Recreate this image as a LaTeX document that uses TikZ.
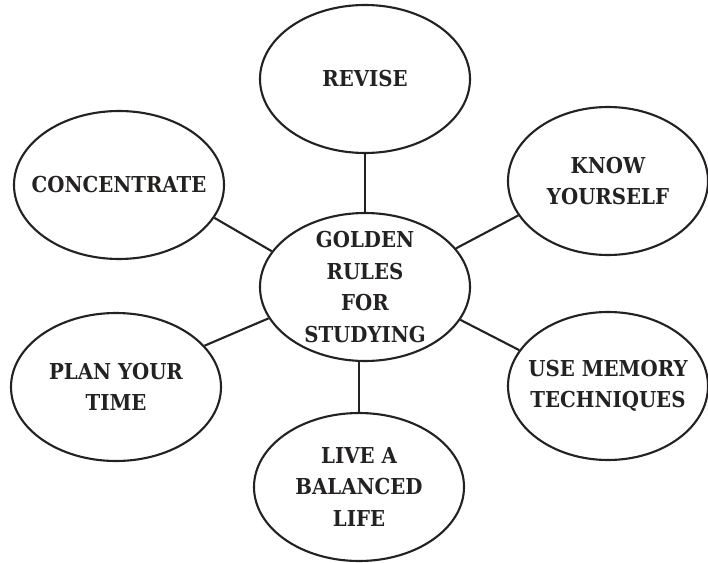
\documentclass[tikz,border=0pt]{standalone}
\usepackage{fontspec}
\setmainfont{DejaVu Serif Condensed}
\usepackage{tikz}
\usetikzlibrary{shapes.geometric}
\definecolor{ink}{rgb}{0.14,0.13,0.13}
\tikzset{bub/.style={draw=ink,line width=1.5pt,ellipse,minimum width=5.25cm,minimum height=3.7cm,inner sep=0pt}}
\tikzset{txt/.style={text=ink,align=center,font=\fontsize{15.6}{22.5}\selectfont\bfseries}}
\tikzset{ln/.style={draw=ink,line width=1.5pt}}
\begin{document}
\begin{tikzpicture}
        \useasboundingbox (0,0) rectangle (17.7,14.05);
        \node[bub] (gold) at (9.125,6.875) {};
        \node[bub] (revise) at (9.125,12.075) {};
        \node[bub] (conc) at (2.975,9.425) {};
        \node[bub,minimum width=5cm] (know) at (15.2,9.525) {};
        \node[bub] (plan) at (2.9,4.375) {};
        \node[bub,minimum width=5cm] (use) at (15.2,4.4) {};
        \node[bub] (live) at (8.975,1.875) {};
        \node[txt] (goldt) at (gold) {GOLDEN\\RULES\\FOR\\STUDYING};
        \node[txt] (revt) at (revise) {REVISE};
        \node[txt] (conct) at (conc) {CONCENTRATE};
        \node[txt] (knowt) at (know) {KNOW\\YOURSELF};
        \node[txt] (plant) at (plan) {PLAN YOUR\\TIME};
        \node[txt] (uset) at (use) {USE MEMORY\\TECHNIQUES};
        \node[txt] (livet) at (live) {LIVE A\\BALANCED\\LIFE};
        \draw[ln] (revise) -- (gold);
        \draw[ln] (conc.-19) -- (gold.159);
        \draw[ln] (know.201) -- (gold.23);
        \draw[ln] (plan.25) -- (gold.198);
        \draw[ln] (use.158) -- (gold.-19);
        \draw[ln] (live.north) -- (live.north |- gold.south);
      \end{tikzpicture}
\end{document}
